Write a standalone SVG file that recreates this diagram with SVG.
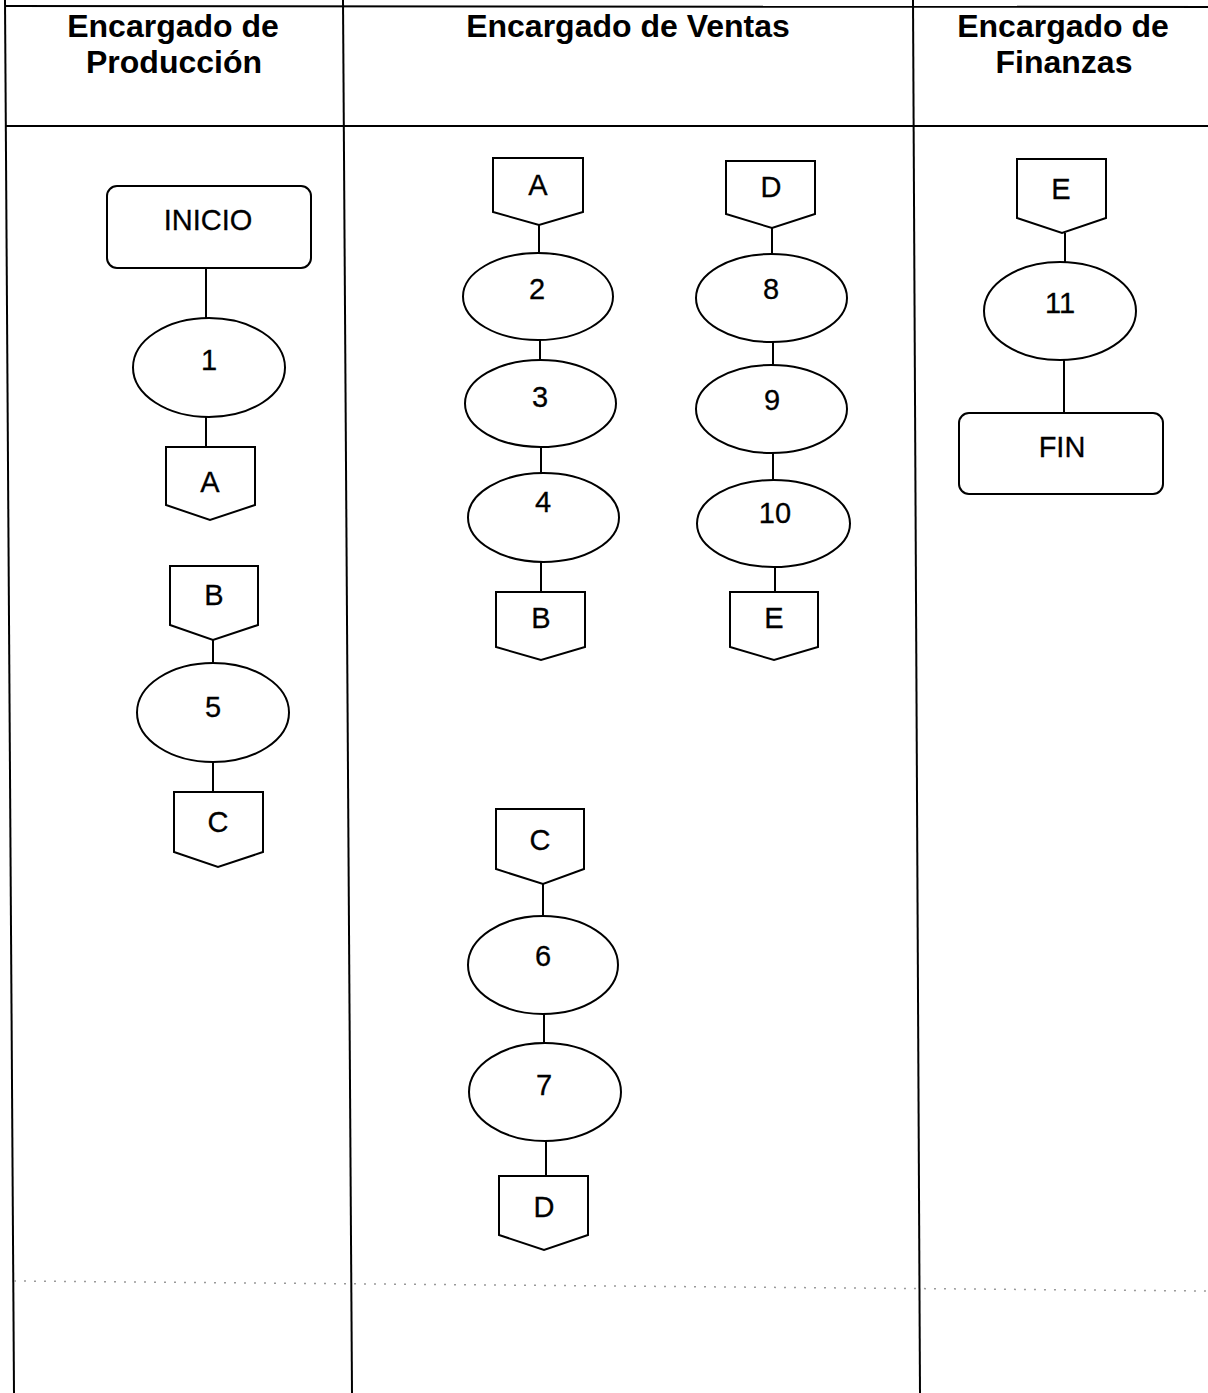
<svg xmlns="http://www.w3.org/2000/svg" width="1208" height="1393" viewBox="0 0 1208 1393">
<style>
.bg{fill:#ffffff}
.tl{stroke:#000;stroke-width:2;fill:none}
.dot{stroke:#999;stroke-width:1.5;stroke-dasharray:2 8;fill:none}
.hd{font-family:"Liberation Sans",Arial,sans-serif;font-weight:bold;font-size:32px;fill:#000;text-anchor:middle}
.sh{fill:#fff;stroke:#000;stroke-width:2}
.tx{font-family:"Liberation Sans",Arial,sans-serif;font-size:29px;fill:#000;stroke:#000;stroke-width:0.3;text-anchor:middle}
.cn{stroke:#000;stroke-width:2;fill:none}
</style>
<rect class="bg" x="0" y="0" width="1208" height="1393"/>
<g id="table">
<line class="tl" x1="5" y1="6" x2="1208" y2="7"/>
<line class="tl" x1="5" y1="126" x2="1208" y2="126"/>
<line class="tl" x1="5" y1="0" x2="14" y2="1393"/>
<line class="tl" x1="343" y1="0" x2="352" y2="1393"/>
<line class="tl" x1="913" y1="0" x2="920" y2="1393"/>
<line class="dot" x1="14" y1="1281" x2="1208" y2="1291"/>
</g>
<g id="headers">
<text class="hd" x="173" y="37">Encargado de</text>
<text class="hd" x="174" y="73">Producción</text>
<text class="hd" x="628" y="37">Encargado de Ventas</text>
<text class="hd" x="1063" y="37">Encargado de</text>
<text class="hd" x="1064" y="73">Finanzas</text>
</g>
<g id="connectors">
<line class="cn" x1="206" y1="268" x2="206" y2="318"/>
<line class="cn" x1="206" y1="417" x2="206" y2="447"/>
<line class="cn" x1="213" y1="640" x2="213" y2="663"/>
<line class="cn" x1="213" y1="762" x2="213" y2="792"/>
<line class="cn" x1="539" y1="225" x2="539" y2="253"/>
<line class="cn" x1="540" y1="340" x2="540" y2="360"/>
<line class="cn" x1="541" y1="447" x2="541" y2="473"/>
<line class="cn" x1="541" y1="562" x2="541" y2="592"/>
<line class="cn" x1="543" y1="884" x2="543" y2="916"/>
<line class="cn" x1="544" y1="1014" x2="544" y2="1043"/>
<line class="cn" x1="546" y1="1141" x2="546" y2="1176"/>
<line class="cn" x1="772" y1="228" x2="772" y2="254"/>
<line class="cn" x1="773" y1="342" x2="773" y2="365"/>
<line class="cn" x1="773" y1="453" x2="773" y2="480"/>
<line class="cn" x1="775" y1="567" x2="775" y2="592"/>
<line class="cn" x1="1065" y1="233" x2="1065" y2="262"/>
<line class="cn" x1="1064" y1="360" x2="1064" y2="413"/>
</g>
<g id="inicio"><rect class="sh" x="107" y="186" width="204" height="82" rx="10"/><text class="tx" x="208" y="230">INICIO</text></g>
<g id="p1"><ellipse class="sh" cx="209" cy="367.5" rx="76" ry="49.5"/><text class="tx" x="209" y="370">1</text></g>
<g id="conA1"><polygon class="sh" points="166,447 255,447 255,505 210,520 166,505"/><text class="tx" x="210" y="492">A</text></g>
<g id="conB1"><polygon class="sh" points="170,566 258,566 258,625 213,640 170,625"/><text class="tx" x="214" y="605">B</text></g>
<g id="p5"><ellipse class="sh" cx="213" cy="712.5" rx="76" ry="49.5"/><text class="tx" x="213" y="717">5</text></g>
<g id="conC1"><polygon class="sh" points="174,792 263,792 263,852 218,867 174,852"/><text class="tx" x="218" y="832">C</text></g>
<g id="conA2"><polygon class="sh" points="493,158 583,158 583,212 539,225 493,212"/><text class="tx" x="538" y="195">A</text></g>
<g id="p2"><ellipse class="sh" cx="538" cy="296.5" rx="75" ry="43.5"/><text class="tx" x="537" y="299">2</text></g>
<g id="p3"><ellipse class="sh" cx="540.5" cy="403.5" rx="75.5" ry="43.5"/><text class="tx" x="540" y="407">3</text></g>
<g id="p4"><ellipse class="sh" cx="543.5" cy="517.5" rx="75.5" ry="44.5"/><text class="tx" x="543" y="512">4</text></g>
<g id="conB2"><polygon class="sh" points="496,592 585,592 585,647 541,660 496,647"/><text class="tx" x="541" y="628">B</text></g>
<g id="conC2"><polygon class="sh" points="496,809 584,809 584,869 543,884 496,869"/><text class="tx" x="540" y="850">C</text></g>
<g id="p6"><ellipse class="sh" cx="543" cy="965" rx="75" ry="49"/><text class="tx" x="543" y="966">6</text></g>
<g id="p7"><ellipse class="sh" cx="545" cy="1092" rx="76" ry="49"/><text class="tx" x="544" y="1095">7</text></g>
<g id="conD2"><polygon class="sh" points="499,1176 588,1176 588,1235 544,1250 499,1235"/><text class="tx" x="544" y="1217">D</text></g>
<g id="conD1"><polygon class="sh" points="726,161 815,161 815,214 772,228 726,214"/><text class="tx" x="771" y="197">D</text></g>
<g id="p8"><ellipse class="sh" cx="771.5" cy="298" rx="75.5" ry="44"/><text class="tx" x="771" y="299">8</text></g>
<g id="p9"><ellipse class="sh" cx="771.5" cy="409" rx="75.5" ry="44"/><text class="tx" x="772" y="410">9</text></g>
<g id="p10"><ellipse class="sh" cx="773.5" cy="523.5" rx="76.5" ry="43.5"/><text class="tx" x="775" y="523">10</text></g>
<g id="conE1"><polygon class="sh" points="730,592 818,592 818,647 774,660 730,647"/><text class="tx" x="774" y="628">E</text></g>
<g id="conE2"><polygon class="sh" points="1017,159 1106,159 1106,218 1062,233 1017,218"/><text class="tx" x="1061" y="199">E</text></g>
<g id="p11"><ellipse class="sh" cx="1060" cy="311" rx="76" ry="49"/><text class="tx" x="1060" y="313">11</text></g>
<g id="fin"><rect class="sh" x="959" y="413" width="204" height="81" rx="10"/><text class="tx" x="1062" y="457">FIN</text></g>
</svg>
